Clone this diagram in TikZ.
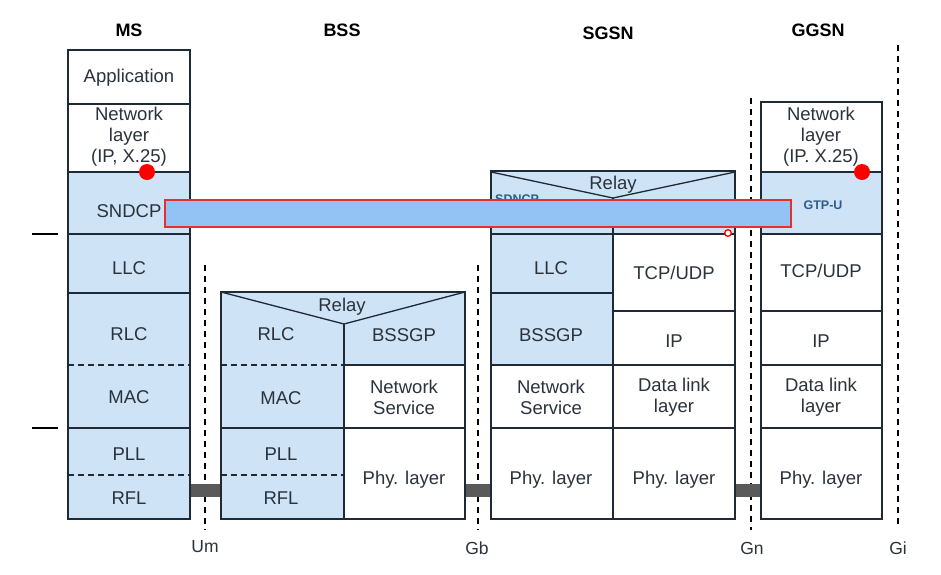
\documentclass[tikz,border=0pt]{standalone}
\usepackage{fontspec}
\setmainfont{Liberation Sans}
\definecolor{cellblue}{HTML}{CFE3F6}
\definecolor{edge}{HTML}{1E2A36}
\definecolor{txt}{HTML}{2A323C}
\definecolor{barblue}{HTML}{92C3F4}
\definecolor{barred}{HTML}{E8302A}
\definecolor{gtpblue}{HTML}{2F5C8C}
\definecolor{linkgray}{HTML}{5A5A5A}
\begin{document}
\begin{tikzpicture}[x=1pt,y=-1pt,
  boxline/.style={draw=edge,line width=1.6pt},
  sepline/.style={draw=edge,line width=1.3pt},
  dashsep/.style={draw=edge,line width=1.3pt,dash pattern=on 6pt off 4pt},
  iface/.style={draw=black,line width=2pt,dash pattern=on 6pt off 5pt},
  lbl/.style={font=\fontsize{18.5}{21}\selectfont,text=txt,align=center,inner sep=0pt},
  hdr/.style={font=\fontsize{18}{21}\selectfont\bfseries,text=black,inner sep=0pt},
  ifl/.style={font=\fontsize{17.5}{20}\selectfont,text=txt,inner sep=0pt},
  small/.style={font=\fontsize{12.5}{14}\selectfont\bfseries,text=gtpblue,inner sep=0pt},
  link/.style={fill=linkgray,draw=none}]
\useasboundingbox[fill=white] (0,0) rectangle (941,574);

% headers
\node[hdr] (hMS) at (129,30) {MS};
\node[hdr] (hBSS) at (342,30) {BSS};
\node[hdr] (hSGSN) at (608,33) {SGSN};
\node[hdr] (hGGSN) at (818,30) {GGSN};

% interface dashed lines
\coordinate (umT) at (205,265); \coordinate (umB) at (205,530);
\coordinate (gbT) at (478,265); \coordinate (gbB) at (478,530);
\coordinate (gnT) at (751,98); \coordinate (gnB) at (751,530);
\coordinate (giT) at (898,45); \coordinate (giB) at (898,525);
\draw[iface] (umT) -- (umB);
\draw[iface] (gbT) -- (gbB);
\draw[iface] (gnT) -- (gnB);
\draw[iface] (giT) -- (giB);
\node[ifl] (lUm) at (205,547) {Um};
\node[ifl] (lGb) at (477,548) {Gb};
\node[ifl] (lGn) at (752,548) {Gn};
\node[ifl] (lGi) at (898,548) {Gi};

% physical links
\fill[link] (190,484) rectangle (221,497);
\fill[link] (465,484) rectangle (491,497);
\fill[link] (735,484) rectangle (761,497);

% left tick marks
\draw[draw=black,line width=1.8pt] (32,234) -- (58,234);
\draw[draw=black,line width=1.8pt] (32,428) -- (58,428);

% ===== MS =====
\fill[cellblue] (68,172) rectangle (190,519);
\draw[sepline] (68,104) -- (190,104);
\draw[sepline] (68,172) -- (190,172);
\draw[sepline] (68,234) -- (190,234);
\draw[sepline] (68,293) -- (190,293);
\draw[dashsep] (68,365) -- (190,365);
\draw[sepline] (68,428) -- (190,428);
\draw[dashsep] (68,475) -- (190,475);
\draw[boxline] (68,50) rectangle (190,519);
\node[lbl] (msApp) at (129,78) {Application};
\node[lbl] (msNet) at (129,137) {Network\\layer\\(IP, X.25)};
\node[lbl] (msSndcp) at (129,211) {SNDCP};
\node[lbl] (msLlc) at (129,268) {LLC};
\node[lbl] (msRlc) at (129,334) {RLC};
\node[lbl] (msMac) at (129,397) {MAC};
\node[lbl] (msPll) at (129,454) {PLL};
\node[lbl] (msRfl) at (129,498) {RFL};

% ===== BSS =====
\fill[cellblue] (221,292) rectangle (344,519);
\fill[cellblue] (344,292) rectangle (465,365);
\draw[sepline] (221,292) -- (344,324) -- (465,292);
\draw[sepline] (344,324) -- (344,519);
\draw[dashsep] (221,365) -- (344,365);
\draw[sepline] (344,365) -- (465,365);
\draw[sepline] (221,428) -- (465,428);
\draw[dashsep] (221,475) -- (344,475);
\draw[boxline] (221,292) rectangle (465,519);
\node[lbl] (bRelay) at (342,307) {Relay};
\node[lbl] (bRlc) at (276,334) {RLC};
\node[lbl] (bBssgp) at (404,335) {BSSGP};
\node[lbl] (bMac) at (281,398) {MAC};
\node[lbl] (bNs) at (404,397) {Network\\Service};
\node[lbl] (bPll) at (281,454) {PLL};
\node[lbl] (bRfl) at (281,498) {RFL};
\node[lbl] (bPhy) at (404,480) {Phy. layer};

% ===== SGSN =====
\fill[cellblue] (491,171) rectangle (735,234);
\fill[cellblue] (491,234) rectangle (613,365);
\draw[sepline] (491,172) -- (613,198) -- (735,172);
\draw[sepline] (613,198) -- (613,519);
\draw[sepline] (491,234) -- (735,234);
\draw[sepline] (491,293) -- (613,293);
\draw[sepline] (613,311) -- (735,311);
\draw[sepline] (491,365) -- (735,365);
\draw[sepline] (491,428) -- (735,428);
\draw[boxline] (491,171) rectangle (735,519);
\node[lbl] (sRelay) at (613,185) {Relay};
\node[small,anchor=west] (sSdncp) at (495,199) {SDNCP};
\node[lbl] (sLlc) at (551,268) {LLC};
\node[lbl] (sTcp) at (674,273) {TCP/UDP};
\node[lbl] (sBssgp) at (551,335) {BSSGP};
\node[lbl] (sIp) at (674,341) {IP};
\node[lbl] (sNs) at (551,397) {Network\\Service};
\node[lbl] (sDl) at (674,397) {Data link\\layer};
\node[lbl] (sPhyA) at (551,480) {Phy. layer};
\node[lbl] (sPhyB) at (674,480) {Phy. layer};

% ===== GGSN =====
\fill[cellblue] (761,172) rectangle (882,234);
\draw[sepline] (761,172) -- (882,172);
\draw[sepline] (761,234) -- (882,234);
\draw[sepline] (761,311) -- (882,311);
\draw[sepline] (761,365) -- (882,365);
\draw[sepline] (761,428) -- (882,428);
\draw[boxline] (761,102) rectangle (882,519);
\node[lbl] (gNet) at (821,137) {Network\\layer\\(IP. X.25)};
\node[small] (gGtp) at (823,205) {GTP-U};
\node[lbl] (gTcp) at (821,271) {TCP/UDP};
\node[lbl] (gIp) at (821,341) {IP};
\node[lbl] (gDl) at (821,397) {Data link\\layer};
\node[lbl] (gPhy) at (821,480) {Phy. layer};

% ===== overlay annotations =====
\draw[fill=barblue,draw=barred,line width=1.5pt] (165,200) rectangle (791,227);
\fill[red] (147,172) circle (8);
\fill[red] (862,172) circle (8);
\draw[draw=red,fill=white,line width=1.3pt] (728,233) circle (3.3);
\end{tikzpicture}
\end{document}
